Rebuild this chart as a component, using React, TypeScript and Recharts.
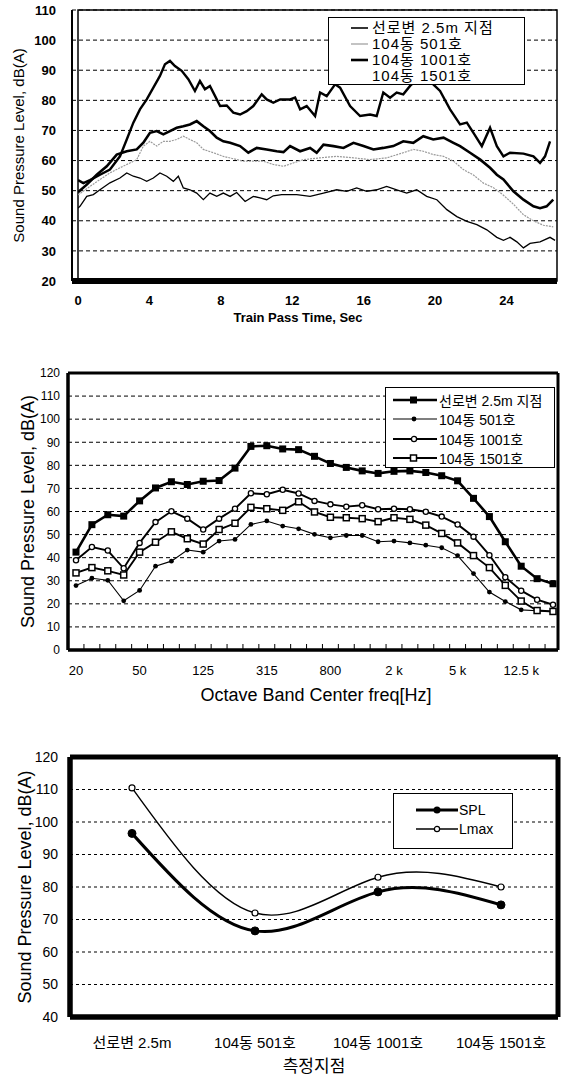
import React from 'react';
import { LineChart, Line, XAxis, YAxis, CartesianGrid, ReferenceArea, Legend, Label } from 'recharts';

const LATIN = '"Liberation Sans", Arial, sans-serif';
const MIXED = '"Liberation Sans", "Noto Sans CJK KR", sans-serif';

// ---- chart 1: time history during a train pass (sec, dB(A))
const trackTime = [0, 0.3, 0.67, 1.23, 1.79, 2.35, 2.73, 3.1, 3.47, 3.85, 4.22, 4.59, 4.87, 5.15, 5.43, 5.81, 6.18, 6.55, 6.83, 7.11, 7.39, 7.68, 7.96, 8.33, 8.7, 9.08, 9.45, 9.82, 10.29, 10.57, 10.94, 11.32, 11.88, 12.16, 12.44, 12.81, 13.28, 13.56, 13.93, 14.4, 14.68, 15.24, 15.8, 16.36, 16.73, 17.1, 17.48, 17.85, 18.22, 18.6, 19.0, 19.5, 19.9, 20.28, 20.84, 21.4, 21.78, 22.15, 22.62, 23.08, 23.46, 23.83, 24.2, 24.95, 25.51, 25.88, 26.16, 26.44];
const trackDb = [53.5, 52.5, 53.5, 55.3, 57, 61.4, 67, 72.6, 77, 80.3, 84.2, 88.1, 92, 93.1, 91.4, 89.8, 87, 83.1, 86.4, 83.7, 84.8, 81.4, 78.1, 78.3, 75.9, 75.3, 76.4, 78.1, 82, 80.3, 79.2, 80.3, 80.3, 80.9, 77, 78.1, 74.8, 82.6, 81.4, 85.3, 84.2, 78.1, 74.8, 75.3, 74.8, 82.6, 80.9, 82.6, 82, 84.8, 87, 88, 85.3, 83.1, 77, 72, 72.6, 69.2, 64.8, 70.9, 64.8, 61.4, 62.6, 62.3, 61.4, 59.2, 61.4, 66.4];

const h501Time = [0, 0.67, 1.23, 1.79, 2.35, 2.91, 3.29, 3.66, 4.03, 4.41, 4.78, 5.15, 5.53, 5.9, 6.27, 6.65, 7.02, 7.58, 8.14, 8.7, 9.26, 9.82, 10.38, 10.94, 11.51, 12.06, 12.62, 13.56, 14.49, 15.43, 16.36, 17.29, 18.22, 18.78, 19.34, 19.9, 20.47, 21.03, 21.59, 22.15, 22.71, 23.27, 23.83, 24.39, 24.95, 25.51, 26.07, 26.62];
const h501Db = [48.6, 51.4, 53.7, 55.9, 57.6, 59.2, 60.3, 64.8, 66.4, 64.8, 66.4, 66.4, 67, 68.1, 67, 65.9, 63.7, 62.6, 61.4, 60.6, 59.8, 59.8, 59.8, 58.7, 58.1, 59.2, 60.3, 60.9, 61.4, 60.9, 60.3, 60.9, 62.6, 63.7, 63.1, 62, 61.4, 59.8, 57, 55.2, 52.5, 51, 48.5, 45.5, 42, 40, 38.5, 38];

const h1001Time = [0, 0.49, 1.05, 1.61, 2.17, 2.73, 3.29, 3.66, 4.03, 4.41, 4.78, 5.15, 5.53, 5.9, 6.27, 6.65, 7.02, 7.39, 7.77, 8.14, 8.52, 9.08, 9.54, 10.01, 10.57, 11.13, 11.51, 11.88, 12.44, 13.0, 13.37, 13.75, 14.31, 14.87, 15.43, 15.99, 16.55, 17.1, 17.66, 18.22, 18.78, 19.34, 19.9, 20.47, 21.03, 21.4, 21.96, 22.53, 23.08, 23.46, 23.83, 24.39, 24.95, 25.51, 25.88, 26.25, 26.62];
const h1001Db = [49.5, 52, 55.3, 58.1, 62, 63.1, 63.7, 65.9, 69.2, 69.8, 68.7, 69.8, 70.9, 71.4, 72, 73.1, 71.4, 69.8, 67.6, 66.4, 65.9, 64.8, 62.6, 64.2, 63.7, 63.1, 62.8, 64.8, 63.1, 64.2, 62.6, 65.3, 64.8, 64.2, 65.9, 64.8, 63.7, 64.2, 64.8, 66.4, 65.9, 68.1, 67, 67.6, 65.9, 64.8, 62.6, 60.3, 57.6, 55.3, 53.7, 49.8, 47, 44.8, 44.2, 44.8, 47];

const h1501Time = [0, 0.11, 0.49, 0.86, 1.23, 1.79, 2.35, 2.73, 3.1, 3.47, 3.85, 4.22, 4.59, 4.97, 5.34, 5.62, 5.9, 6.27, 6.65, 7.02, 7.39, 7.77, 8.14, 8.52, 8.89, 9.36, 9.82, 10.2, 10.57, 10.94, 11.41, 11.88, 12.25, 13.0, 13.75, 14.49, 15.05, 15.61, 16.17, 16.73, 17.29, 17.85, 18.41, 18.97, 19.53, 20.1, 20.66, 21.22, 21.78, 22.34, 22.9, 23.46, 23.83, 24.2, 24.58, 24.95, 25.32, 25.88, 26.44, 26.72];
const h1501Db = [44.2, 44.8, 48.1, 48.7, 50.3, 52.6, 54.2, 55.9, 54.8, 54.2, 53.1, 54.2, 55.9, 54.8, 53.1, 54.8, 50.9, 50.3, 49.2, 47, 49.2, 48.1, 49.2, 48.1, 49.4, 46.4, 48.1, 47.6, 47, 48.3, 48.7, 48.7, 48.7, 48.1, 49.2, 50.3, 49.8, 50.9, 49.8, 50.3, 51.4, 50.3, 49.2, 50.3, 48.1, 47, 43.7, 41.4, 39.8, 38.7, 37, 34.5, 33.5, 34.5, 33, 31, 32.5, 33, 34.5, 33.5];

const timeTicks = [0, 4, 8, 12, 16, 20, 24];
const levelTicks1 = [20, 30, 40, 50, 60, 70, 80, 90, 100, 110];
const timeNames = ['선로변 2.5m 지점', '104동 501호', '104동 1001호', '104동 1501호'];

// ---- chart 2: 1/3 octave band spectrum
const bands = ['20', '25', '31.5', '40', '50', '63', '80', '100', '125', '160', '200', '250', '315', '400', '500', '630', '800', '1 k', '1.25 k', '1.6 k', '2 k', '2.5 k', '3.15 k', '4 k', '5 k', '6.3 k', '8 k', '10 k', '12.5 k', '16 k', '20 k'];
const bandRoadside = [42.4, 54.3, 58.6, 58, 64.6, 70.2, 72.9, 71.7, 73.1, 73.4, 78.8, 88.2, 88.5, 87.1, 86.8, 83.9, 80.8, 79.1, 77.6, 76.5, 77.4, 77.6, 76.9, 75.5, 73.3, 65.7, 57.8, 46.9, 36.3, 30.9, 28.7];
const band501 = [27.9, 31.1, 30.2, 21.3, 25.8, 36.3, 38.5, 43.3, 42.4, 47.2, 47.9, 54.4, 55.9, 53.7, 52.5, 50.1, 48.6, 49.6, 49.6, 46.9, 47.2, 46.4, 45.4, 44.3, 40.9, 33.1, 25.1, 21, 17.4, 17, 16.7];
const band1001 = [38.9, 44.6, 43.1, 35.4, 46.4, 55.4, 60.1, 56.9, 52.2, 56.9, 61.2, 67.9, 67.5, 69.4, 67.8, 64.6, 63.1, 62.1, 62.7, 61, 61.2, 61, 59.9, 57.8, 54.4, 49.1, 41.1, 31.5, 25.7, 21.8, 19.6];
const band1501 = [33.4, 35.7, 34.3, 32.5, 42.4, 46.7, 51.2, 48.2, 45.9, 52.2, 54.9, 61.8, 61.2, 60.5, 64.2, 59.8, 57.5, 57.3, 56.9, 55.6, 57.3, 56.6, 54.1, 50.5, 46.4, 40.9, 35.7, 28, 21.2, 17.1, 16.7];
const levelTicks2 = [0, 10, 20, 30, 40, 50, 60, 70, 80, 90, 100, 110, 120];

// ---- chart 3: SPL / Lmax per measuring point
const sites = ['선로변 2.5m', '104동 501호', '104동 1001호', '104동 1501호'];
const siteSpl = [96.5, 66.5, 78.5, 74.5];
const siteLmax = [110.5, 72, 83, 80];
const levelTicks3 = [40, 50, 60, 70, 80, 90, 100, 110, 120];

const series = (ts: number[], vs: number[]) => ts.map((t, i) => ({ t, db: vs[i] }));

const spectrum = bands.map((band, i) => ({
  band,
  roadside: bandRoadside[i],
  f501: band501[i],
  f1001: band1001[i],
  f1501: band1501[i],
}));

const siteData = sites.map((site, i) => ({ site, spl: siteSpl[i], lmax: siteLmax[i] }));

const yTitle = (text: string, x: number, size: number, extra: any = {}) => (props: any) => {
  const vb = props.viewBox;
  const cy = vb.y + vb.height / 2;
  return (
    <text x={x} y={cy} transform={`rotate(-90 ${x} ${cy})`} textAnchor="middle" dominantBaseline="central"
      fontFamily={LATIN} fontSize={size} fill="#000" {...extra}>
      {text}
    </text>
  );
};

const xTitle = (text: string, cx: number, dy: number, size: number, font: string, extra: any = {}) => (props: any) => {
  const vb = props.viewBox;
  return (
    <text x={cx} y={vb.y + dy} textAnchor="middle" fontFamily={font} fontSize={size} fill="#000" {...extra}>
      {text}
    </text>
  );
};

// plot-area border: grid lines on the four edges
const edgeX = ({ offset }: any) => [offset.left, offset.left + offset.width];
const edgeY = ({ offset }: any) => [offset.top, offset.top + offset.height];
const frame = (w: number) => ({ stroke: '#000', strokeWidth: w });

// legend samples for chart 1
const timeSamples = [
  { stroke: '#000', w: 1.6 },
  { stroke: '#9a9a9a', w: 1.2 },
  { stroke: '#000', w: 2.6 },
  null,
];

const TimeLegend = () => (
  <div style={{ width: 197, height: 68, boxSizing: 'border-box', border: '1.5px solid #000', background: '#fff', padding: '2px 0 0 22px', fontFamily: MIXED, fontSize: 15, letterSpacing: 1 }}>
    {timeNames.map((name, i) => (
      <div key={name} style={{ display: 'flex', alignItems: 'center', height: 16 }}>
        <svg width={18} height={10}>
          {timeSamples[i] && <line x1={0} x2={17} y1={5} y2={5} stroke={timeSamples[i]!.stroke} strokeWidth={timeSamples[i]!.w} />}
        </svg>
        <span style={{ marginLeft: 3, lineHeight: '16px' }}>{name}</span>
      </div>
    ))}
  </div>
);

const TimeChart = () => (
  <LineChart width={566} height={330} margin={{ top: 10, right: 9, bottom: 0, left: 0 }}>
    <CartesianGrid vertical={false} stroke="#000" strokeDasharray="4 3" strokeWidth={1} />
    <ReferenceArea y1={20} y2={110} fill="none" stroke="#000" strokeWidth={1.5} ifOverflow="visible" />
    <XAxis type="number" dataKey="t" domain={[0, 26.83]} ticks={timeTicks} padding={{ left: 6, right: 0 }}
      allowDataOverflow height={49} tickLine={false} tickMargin={9}
      axisLine={{ stroke: '#000', strokeWidth: 6 }}
      tick={{ fontSize: 13, fontWeight: 'bold', fill: '#000', fontFamily: LATIN }}>
      <Label content={xTitle('Train Pass Time, Sec', 298, 41, 13, LATIN, { fontWeight: 'bold' })} />
    </XAxis>
    <YAxis type="number" domain={[20, 110]} ticks={levelTicks1} width={72} tickLine={false} tickMargin={10}
      axisLine={{ stroke: '#000', strokeWidth: 2 }} allowDataOverflow
      tick={{ fontSize: 13, fontWeight: 'bold', fill: '#000', fontFamily: LATIN }}>
      <Label content={yTitle('Sound Pressure Level, dB(A)', 18, 15)} />
    </YAxis>
    <Line data={series(h501Time, h501Db)} dataKey="db" type="linear" stroke="#9a9a9a" strokeWidth={1.2}
      strokeDasharray="2 1" dot={false} isAnimationActive={false} />
    <Line data={series(h1501Time, h1501Db)} dataKey="db" type="linear" stroke="#000" strokeWidth={1.3}
      dot={false} isAnimationActive={false} />
    <Line data={series(h1001Time, h1001Db)} dataKey="db" type="linear" stroke="#000" strokeWidth={2.6}
      dot={false} isAnimationActive={false} />
    <Line data={series(trackTime, trackDb)} dataKey="db" type="linear" stroke="#000" strokeWidth={2.4}
      dot={false} isAnimationActive={false} />
    <Legend content={() => <TimeLegend />} layout="horizontal" verticalAlign="middle" align="center"
      wrapperStyle={{ left: 328, top: 17, width: 197, height: 68 }} />
  </LineChart>
);

// markers for chart 2
const filledSquare = (p: any) => (
  <rect key={`fs-${p.index}`} x={p.cx - 3.5} y={p.cy - 3.5} width={7} height={7} fill="#000" />
);
const openSquare = (p: any) => (
  <rect key={`os-${p.index}`} x={p.cx - 3} y={p.cy - 3} width={6} height={6} fill="#fff" stroke="#000" strokeWidth={1.5} />
);
const smallDot = (p: any) => <circle key={`sd-${p.index}`} cx={p.cx} cy={p.cy} r={2.4} fill="#000" />;
const openDot = (p: any) => (
  <circle key={`od-${p.index}`} cx={p.cx} cy={p.cy} r={2.6} fill="#fff" stroke="#000" strokeWidth={1.3} />
);

const bandSeries = [
  { key: 'roadside', name: '선로변 2.5m 지점', w: 2.6, marker: 'fs' },
  { key: 'f501', name: '104동 501호', w: 1.1, marker: 'sd' },
  { key: 'f1001', name: '104동 1001호', w: 1.9, marker: 'od' },
  { key: 'f1501', name: '104동 1501호', w: 1.9, marker: 'os' },
];

const sampleMarker = (m: string) => {
  if (m === 'fs') return <rect x={17} y={2.5} width={7} height={7} fill="#000" />;
  if (m === 'os') return <rect x={17.5} y={3} width={6} height={6} fill="#fff" stroke="#000" strokeWidth={1.5} />;
  if (m === 'sd') return <circle cx={21} cy={6} r={2.4} fill="#000" />;
  return <circle cx={21} cy={6} r={2.6} fill="#fff" stroke="#000" strokeWidth={1.3} />;
};

const BandLegend = () => (
  <div style={{ width: 170, height: 81, boxSizing: 'border-box', border: '1.5px solid #000', background: '#fff', padding: '2px 0 0 7px', fontFamily: MIXED, fontSize: 14 }}>
    {bandSeries.map((s) => (
      <div key={s.key} style={{ display: 'flex', alignItems: 'center', height: 19.5 }}>
        <svg width={45} height={12}>
          <line x1={0} x2={44} y1={6} y2={6} stroke="#000" strokeWidth={s.w} />
          {sampleMarker(s.marker)}
        </svg>
        <span style={{ marginLeft: 1 }}>{s.name}</span>
      </div>
    ))}
  </div>
);

const BandTick = (props: any) => {
  const { x, y, payload, index } = props;
  return (
    <g>
      {index < bands.length - 1 && (
        <line x1={x + 7.95} x2={x + 7.95} y1={y - 16} y2={y - 22} stroke="#000" strokeWidth={1} />
      )}
      {index % 4 === 0 && (
        <text x={x} y={y} dy="0.71em" textAnchor="middle" fontFamily={LATIN} fontSize={13} fill="#000">
          {payload.value}
        </text>
      )}
    </g>
  );
};

const SpectrumChart = () => (
  <LineChart width={566} height={380} data={spectrum} margin={{ top: 43, right: 8, bottom: 0, left: 0 }}>
    <CartesianGrid vertical={false} stroke="#000" strokeDasharray="4 3" strokeWidth={1} />
    <CartesianGrid verticalCoordinatesGenerator={edgeX} horizontalCoordinatesGenerator={edgeY}
      stroke="#000" strokeWidth={3} />
    <XAxis dataKey="band" type="category" interval={0} height={60} padding={{ left: 8, right: 5 }}
      tickLine={false} axisLine={frame(3)} tickSize={0} tickMargin={16} tick={<BandTick />}>
      <Label content={xTitle('Octave Band Center freq[Hz]', 316, 51, 18, LATIN)} />
    </XAxis>
    <YAxis type="number" domain={[0, 120]} ticks={levelTicks2} width={68} tickLine={false} axisLine={frame(3)}
      tick={{ fontSize: 12, fill: '#000', fontFamily: LATIN }}>
      <Label content={yTitle('Sound Pressure Level, dB(A)', 28, 18)} />
    </YAxis>
    <Line dataKey="f501" type="linear" stroke="#000" strokeWidth={1.1} dot={smallDot} isAnimationActive={false} />
    <Line dataKey="f1501" type="linear" stroke="#000" strokeWidth={1.9} dot={openSquare} isAnimationActive={false} />
    <Line dataKey="f1001" type="linear" stroke="#000" strokeWidth={1.9} dot={openDot} isAnimationActive={false} />
    <Line dataKey="roadside" type="linear" stroke="#000" strokeWidth={2.6} dot={filledSquare} isAnimationActive={false} />
    <Legend content={() => <BandLegend />} layout="horizontal" verticalAlign="middle" align="center"
      wrapperStyle={{ left: 385, top: 57, width: 170, height: 81 }} />
  </LineChart>
);

const SiteLegend = () => (
  <div style={{ width: 120, height: 56, boxSizing: 'border-box', border: '1.5px solid #000', background: '#fff', padding: '6px 0 0 22px', fontFamily: '"Liberation Sans Narrow", "Liberation Sans", sans-serif', fontSize: 14 }}>
    <div style={{ display: 'flex', alignItems: 'center', height: 19 }}>
      <svg width={43} height={12}>
        <line x1={0} x2={42} y1={6} y2={6} stroke="#000" strokeWidth={3} />
        <circle cx={21} cy={6} r={3.5} fill="#000" />
      </svg>
      <span>SPL</span>
    </div>
    <div style={{ display: 'flex', alignItems: 'center', height: 19 }}>
      <svg width={43} height={12}>
        <line x1={0} x2={42} y1={6} y2={6} stroke="#000" strokeWidth={1.3} />
        <circle cx={21} cy={6} r={2.6} fill="#fff" stroke="#000" strokeWidth={1.2} />
      </svg>
      <span>Lmax</span>
    </div>
  </div>
);

const SiteChart = () => (
  <LineChart width={566} height={340} data={siteData} margin={{ top: 22, right: 8, bottom: 0, left: 0 }}>
    <CartesianGrid vertical={false} stroke="#000" strokeDasharray="3 3" strokeWidth={1} />
    <CartesianGrid verticalCoordinatesGenerator={edgeX} horizontalCoordinatesGenerator={edgeY}
      stroke="#000" strokeWidth={5} />
    <XAxis dataKey="site" type="category" height={58} padding={{ left: 62, right: 57 }}
      tickLine={false} axisLine={frame(5)} tickMargin={14}
      tick={{ fontSize: 15, fill: '#000', fontFamily: MIXED }}>
      <Label content={xTitle('측정지점', 314, 55, 17, MIXED)} />
    </XAxis>
    <YAxis type="number" domain={[40, 120]} ticks={levelTicks3} width={70} tickLine={false} axisLine={frame(5)}
      tickMargin={6} tick={{ fontSize: 14, fill: '#000', fontFamily: LATIN }}>
      <Label content={yTitle('Sound Pressure Level, dB(A)', 25, 18)} />
    </YAxis>
    <Line dataKey="lmax" type="natural" stroke="#000" strokeWidth={1.4}
      dot={{ r: 3, fill: '#fff', stroke: '#000', strokeWidth: 1.2 }} isAnimationActive={false} />
    <Line dataKey="spl" type="natural" stroke="#000" strokeWidth={3}
      dot={{ r: 4, fill: '#000', stroke: '#000', strokeWidth: 1 }} isAnimationActive={false} />
    <Legend content={() => <SiteLegend />} layout="horizontal" verticalAlign="middle" align="center"
      wrapperStyle={{ left: 393, top: 58, width: 120, height: 56 }} />
  </LineChart>
);

export default function App() {
  return (
    <div style={{ position: 'absolute', left: 0, top: 0, width: 566, height: 1075, background: '#fff', overflow: 'hidden' }}>
      <div style={{ position: 'absolute', left: 0, top: 0 }}>
        <TimeChart />
      </div>
      <div style={{ position: 'absolute', left: 0, top: 330 }}>
        <SpectrumChart />
      </div>
      <div style={{ position: 'absolute', left: 0, top: 735 }}>
        <SiteChart />
      </div>
    </div>
  );
}
